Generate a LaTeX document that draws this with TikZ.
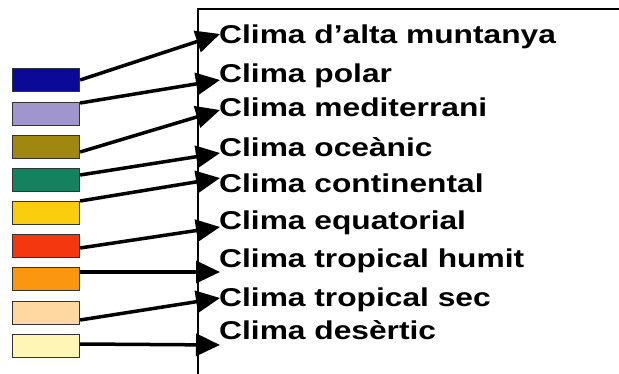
\documentclass[tikz,border=0pt]{standalone}
\usepackage{fontspec}
\newfontfamily\climafont[FakeStretch=1.23]{Liberation Sans}
\usetikzlibrary{arrows.meta,calc}

\definecolor{cmnt}{RGB}{10,10,150}
\definecolor{cpol}{RGB}{160,150,205}
\definecolor{cmed}{RGB}{160,135,15}
\definecolor{coce}{RGB}{20,130,95}
\definecolor{ccon}{RGB}{250,205,15}
\definecolor{cequ}{RGB}{245,55,15}
\definecolor{chum}{RGB}{250,150,15}
\definecolor{csec}{RGB}{255,215,160}
\definecolor{cdes}{RGB}{255,245,180}

\tikzset{
  swatch/.style={draw=black!80,line width=1.2pt,minimum width=67pt,minimum height=23pt,inner sep=0},
  climalink/.style={line width=3.5pt,-{Triangle[length=24pt,width=22pt]}},
  climalabel/.style={anchor=base west,inner sep=0,font=\climafont\bfseries\fontsize{25.8pt}{28pt}\selectfont}
}

\begin{document}
\begin{tikzpicture}[x=1pt,y=-1pt]
  \useasboundingbox (0,0) rectangle (619,374);

  % frame
  \draw[line width=1.5pt] (619,9) -- (198,9) -- (198,374);

  \foreach \i/\col/\yc/\dy/\tip/\base/\txt in {
      mnt/cmnt/80/0/34/44/Clima d’alta muntanya,
      pol/cpol/114/-11/80/83/Clima polar,
      med/cmed/147/5/110/117/Clima mediterrani,
      oce/coce/180/-5/153/157/Clima oceànic,
      con/ccon/213/-12/178/193/Clima continental,
      equ/cequ/246/2/227/230/Clima equatorial,
      hum/chum/279/-7/272/268/Clima tropical humit,
      sec/csec/313/7/298/307/Clima tropical sec,
      des/cdes/346/-2/345/340/Clima desèrtic}
  {
    \node[swatch,fill=\col] (sw\i) at (46,\yc) {};
    \node[climalabel] (lb\i) at (219,\base) {\txt};
    \coordinate (tp\i) at (220,\tip);
    \draw[climalink] ($(sw\i.east)+(0,\dy)$) -- (tp\i);
  }

\end{tikzpicture}
\end{document}
